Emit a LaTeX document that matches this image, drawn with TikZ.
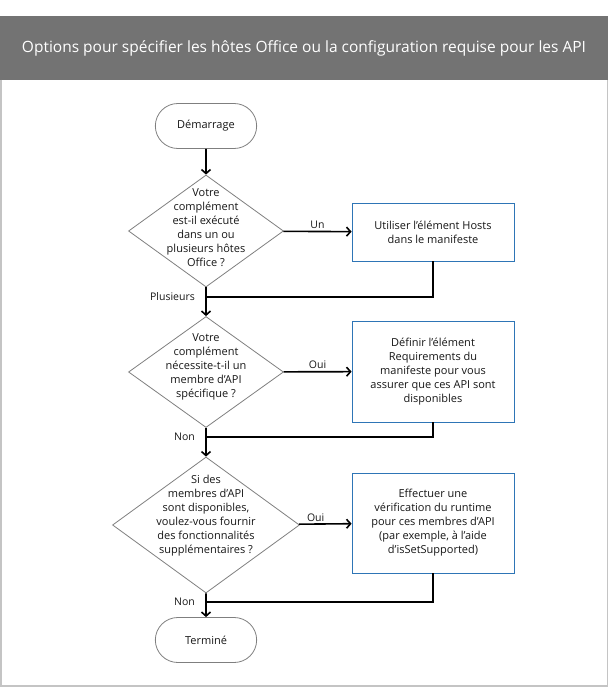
\documentclass[tikz,border=0pt]{standalone}
\usepackage{fontspec}
\setmainfont{Open Sans}
\usetikzlibrary{arrows.meta,shapes.geometric,shapes.misc}
\definecolor{headgray}{HTML}{737373}
\definecolor{framegray}{HTML}{C4C4C4}
\definecolor{shapegray}{HTML}{7F7F7F}
\definecolor{boxblue}{HTML}{2E75B6}
\definecolor{ink}{HTML}{161616}
\newcommand{\bodyfont}{\fontsize{11}{14}\selectfont}
\newcommand{\tagfont}{\fontsize{10.5}{12}\selectfont}
\tikzset{
  terminal/.style={rounded rectangle, draw=shapegray, line width=0.8pt, minimum width=108pt, minimum height=45pt, font=\bodyfont, text=ink},
  decision/.style={diamond, draw=shapegray, line width=0.8pt, inner sep=0pt},
  qtext/.style={align=center, font=\bodyfont, text=ink, inner sep=0pt},
  action/.style={rectangle, draw=boxblue, line width=0.8pt, align=center, minimum width=162pt, font=\bodyfont, text=ink},
  tag/.style={font=\tagfont, text=ink, inner sep=1pt},
  line/.style={-{Straight Barb[length=4pt,width=9pt]}, line width=1.6pt},
  link/.style={line width=1.6pt}
}
\begin{document}
\begin{tikzpicture}[x=1pt,y=-1pt]
  \useasboundingbox (0,0) rectangle (609,700);
  % header and frame
  \fill[headgray] (0,16) rectangle (608,80);
  \node[text=white, font=\fontsize{15.5}{18}\selectfont] (title) at (304,48) {Options pour spécifier les hôtes Office ou la configuration requise pour les API};
  \draw[framegray, line width=1.2pt] (1,80) -- (1,686) -- (607.5,686) -- (607.5,80);

  % main column
  \node[terminal] (start) at (206,126) {Démarrage};
  \node[decision, minimum width=155pt, minimum height=112pt,
    label={[qtext, yshift=3pt]center:Votre\\complément\\est-il exécuté\\dans un ou\\plusieurs hôtes\\Office ?}] (q1) at (206,231) {};
  \node[decision, minimum width=155pt, minimum height=111pt,
    label={[qtext, yshift=5pt]center:Votre\\complément\\nécessite-t-il un\\membre d’API\\spécifique ?}] (q2) at (206,372) {};
  \node[decision, minimum width=187pt, minimum height=136pt,
    label={[qtext, yshift=9pt]center:Si des\\membres d’API\\sont disponibles,\\voulez-vous fournir\\des fonctionnalités\\supplémentaires ?}] (q3) at (206,525) {};
  \node[terminal] (stop) at (206,640) {Terminé};

  % actions
  \node[action, minimum height=58pt] (a1) at (433,232) {Utiliser l’élément Hosts\\dans le manifeste};
  \node[action, minimum height=101pt] (a2) at (433,371.5) {Définir l’élément\\Requirements du\\manifeste pour vous\\assurer que ces API sont\\disponibles};
  \node[action, minimum height=100pt] (a3) at (433,523) {Effectuer une\\vérification du runtime\\pour ces membres d’API\\(par exemple, à l’aide\\d’isSetSupported)};

  \coordinate (j1) at (206,297);
  \coordinate (j2) at (206,437);
  \coordinate (j3) at (206,602);

  % connectors
  \draw[line] (start) -- (q1);
  \draw[line] (q1) -- node[tag, above=1pt]{Un} (a1);
  \draw[link] (a1) |- (j1);
  \draw[line] (q1) -- (q2);
  \node[tag, left=10pt] at (j1) {Plusieurs};
  \draw[line] (q2) -- node[tag, above=1pt]{Oui} (a2);
  \draw[link] (a2) |- (j2);
  \draw[line] (q2) -- (q3);
  \node[tag, left=10pt] at (j2) {Non};
  \draw[line] (q3) -- node[tag, above=1pt, pos=0.32]{Oui} (a3);
  \draw[link] (a3) |- (j3);
  \draw[line] (q3) -- (stop);
  \node[tag, left=10pt] at (j3) {Non};
\end{tikzpicture}
\end{document}
